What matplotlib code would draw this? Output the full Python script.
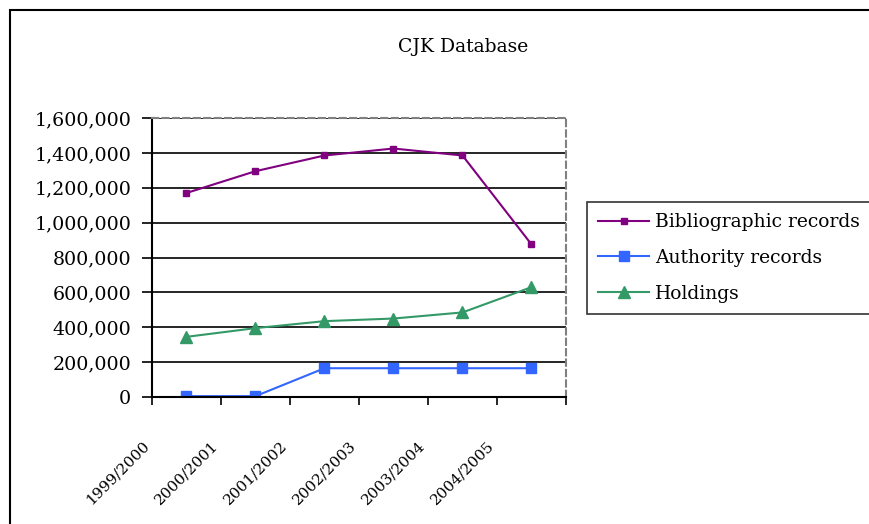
import matplotlib.pyplot as plt
from matplotlib.patches import Rectangle
from matplotlib.ticker import FuncFormatter

# CJK database counts per fiscal year
years = ["1999/2000", "2000/2001", "2001/2002", "2002/2003", "2003/2004", "2004/2005"]
bibliographic = [1170000, 1295000, 1385000, 1425000, 1385000, 875000]
authority = [5000, 5000, 165000, 165000, 165000, 165000]
holdings = [345000, 395000, 435000, 450000, 485000, 630000]

plt.rcParams['font.family'] = ['DejaVu Serif']

fig = plt.figure(figsize=(8.7, 5.24), dpi=100)

# outer chart border (runs off the right and bottom edges)
fig.patches.append(Rectangle((10 / 870, -0.1), 1.1, 1 - 10 / 524 + 0.1,
                             transform=fig.transFigure, fill=False,
                             edgecolor='black', linewidth=1.5))

ax = fig.add_axes([152 / 870, 127 / 524, 414 / 870, 279 / 524])

x = list(range(len(years)))
ax.plot(x, bibliographic, color='#800080', marker='s', markersize=5,
        linewidth=1.5, label='Bibliographic records')
ax.plot(x, authority, color='#3366FF', marker='s', markersize=7,
        linewidth=1.5, label='Authority records')
ax.plot(x, holdings, color='#339966', marker='^', markersize=8,
        linewidth=1.5, label='Holdings')

ax.set_xlim(-0.5, len(years) - 0.5)
ax.set_ylim(0, 1600000)
ax.set_yticks(range(0, 1600001, 200000))
ax.yaxis.set_major_formatter(FuncFormatter(lambda v, p: f"{int(v):,}"))
ax.grid(axis='y', color='black', linewidth=1.2)
ax.set_axisbelow(True)

# category labels sit on the boundary ticks, as in the original
ax.set_xticks([i - 0.5 for i in range(len(years) + 1)])
ax.set_xticklabels(years + [""], rotation=45, ha='right', va='top', fontsize=11)
ax.tick_params(axis='x', direction='out', length=6, width=1.2, pad=24)
ax.tick_params(axis='y', direction='out', length=7, width=1.2, labelsize=13.7, pad=8)

for side in ['top', 'right']:
    ax.spines[side].set_color('#808080')
    ax.spines[side].set_linestyle((0, (3, 2)))
    ax.spines[side].set_linewidth(1.5)
for side in ['left', 'bottom']:
    ax.spines[side].set_color('black')
    ax.spines[side].set_linewidth(1.5)

fig.text(463 / 870, 1 - 47 / 524, "CJK Database", ha='center', va='center', fontsize=13.5)

leg = ax.legend(loc='upper left', bbox_to_anchor=(587 / 870, 1 - 202 / 524),
                bbox_transform=fig.transFigure, frameon=True, fancybox=False,
                fontsize=13.5, borderaxespad=0, handlelength=2.7,
                labelspacing=0.95, borderpad=0.6, handletextpad=0.35)
leg.get_frame().set_edgecolor('black')
leg.get_frame().set_linewidth(1.2)

fig.savefig("out.png", dpi=100)
